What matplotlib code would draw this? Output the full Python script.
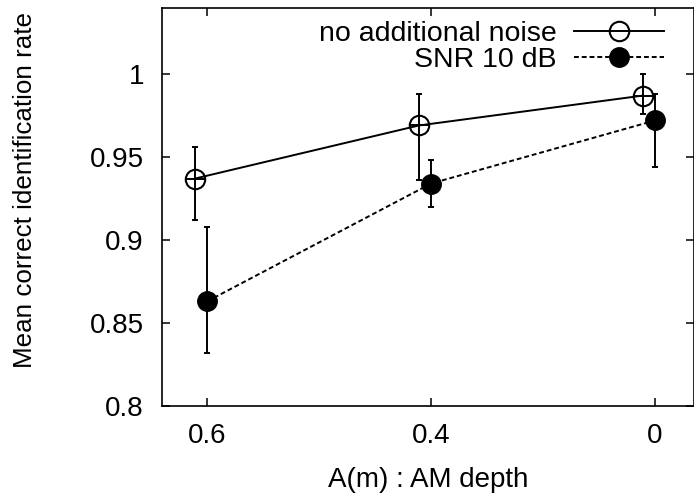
import numpy as np
import matplotlib
matplotlib.use('Agg')
import matplotlib.pyplot as plt
from matplotlib import rcParams
rcParams['font.family'] = 'sans-serif'
rcParams['font.sans-serif'] = ['Liberation Sans', 'DejaVu Sans']

# AM depth categories, left to right
depth_labels = ['0.6', '0.4', '0']

# no additional noise (open circles)
clean_mean = [0.937, 0.969, 0.987]
clean_lo = [0.912, 0.936, 0.976]
clean_hi = [0.956, 0.988, 1.000]

# SNR 10 dB (filled circles)
snr_mean = [0.863, 0.934, 0.972]
snr_lo = [0.832, 0.920, 0.944]
snr_hi = [0.908, 0.948, 0.988]

pos = np.arange(1, len(depth_labels) + 1)
shift = 0.054  # open circles sit a bit left of the tick

fig = plt.figure(figsize=(6.94, 4.97), dpi=100)
ax = fig.add_axes([162/694., 1-406/497., 532/694., 398/497.])

yerr_c = [np.array(clean_mean) - np.array(clean_lo), np.array(clean_hi) - np.array(clean_mean)]
yerr_s = [np.array(snr_mean) - np.array(snr_lo), np.array(snr_hi) - np.array(snr_mean)]

ax.errorbar(pos - shift, clean_mean, yerr=yerr_c, fmt='none', ecolor='black', elinewidth=1.4, capsize=2.5, capthick=1.4, zorder=2)
ax.errorbar(pos, snr_mean, yerr=yerr_s, fmt='none', ecolor='black', elinewidth=1.4, capsize=2.5, capthick=1.4, zorder=2)

ax.plot(pos - shift, clean_mean, color='black', linestyle='-', linewidth=1.4, marker='o', markersize=14,
	markerfacecolor='none', markeredgecolor='black', markeredgewidth=1.5, label='no additional noise', zorder=3)
ax.plot(pos - shift, clean_mean, linestyle='none', marker='_', markersize=14, markeredgewidth=1.4, color='black', zorder=3)
ax.plot(pos, snr_mean, color='black', linestyle=(0, (2.5, 1.5)), linewidth=1.4, marker='o', markersize=14,
	markerfacecolor='black', markeredgecolor='black', label='SNR 10 dB', zorder=4)

ax.set_xlim(1 - 45/224., 3 + 39/224.)
ax.set_ylim(0.8, 0.8 + 398/1660.)
ax.set_xticks(pos)
ax.set_xticklabels(depth_labels)
ax.set_yticks([0.8, 0.85, 0.9, 0.95, 1.0])
ax.set_yticklabels(['0.8', '0.85', '0.9', '0.95', '1'])
ax.tick_params(axis='both', direction='in', length=6, width=1.1, labelsize=20, top=True, right=True)
ax.tick_params(axis='y', pad=13)
ax.tick_params(axis='x', pad=12)
for sp in ax.spines.values():
	sp.set_linewidth(1.2)

ax.set_xlabel('A(m) : AM depth', fontsize=20, va='center')
ax.xaxis.set_label_coords(0.5, (406-480)/398.)
ax.set_ylabel('Mean correct identification rate', fontsize=18.7, va='center')
ax.yaxis.set_label_coords((25-162)/532., (406-190)/398.)

ax.legend(loc='upper right', bbox_to_anchor=(664/694., 1-21/497.), bbox_transform=fig.transFigure,
	frameon=False, markerfirst=False, fontsize=20.5, handlelength=3.15, handletextpad=0.63,
	labelspacing=0.0, borderpad=0, borderaxespad=0)

fig.savefig('out.png', dpi=100)
